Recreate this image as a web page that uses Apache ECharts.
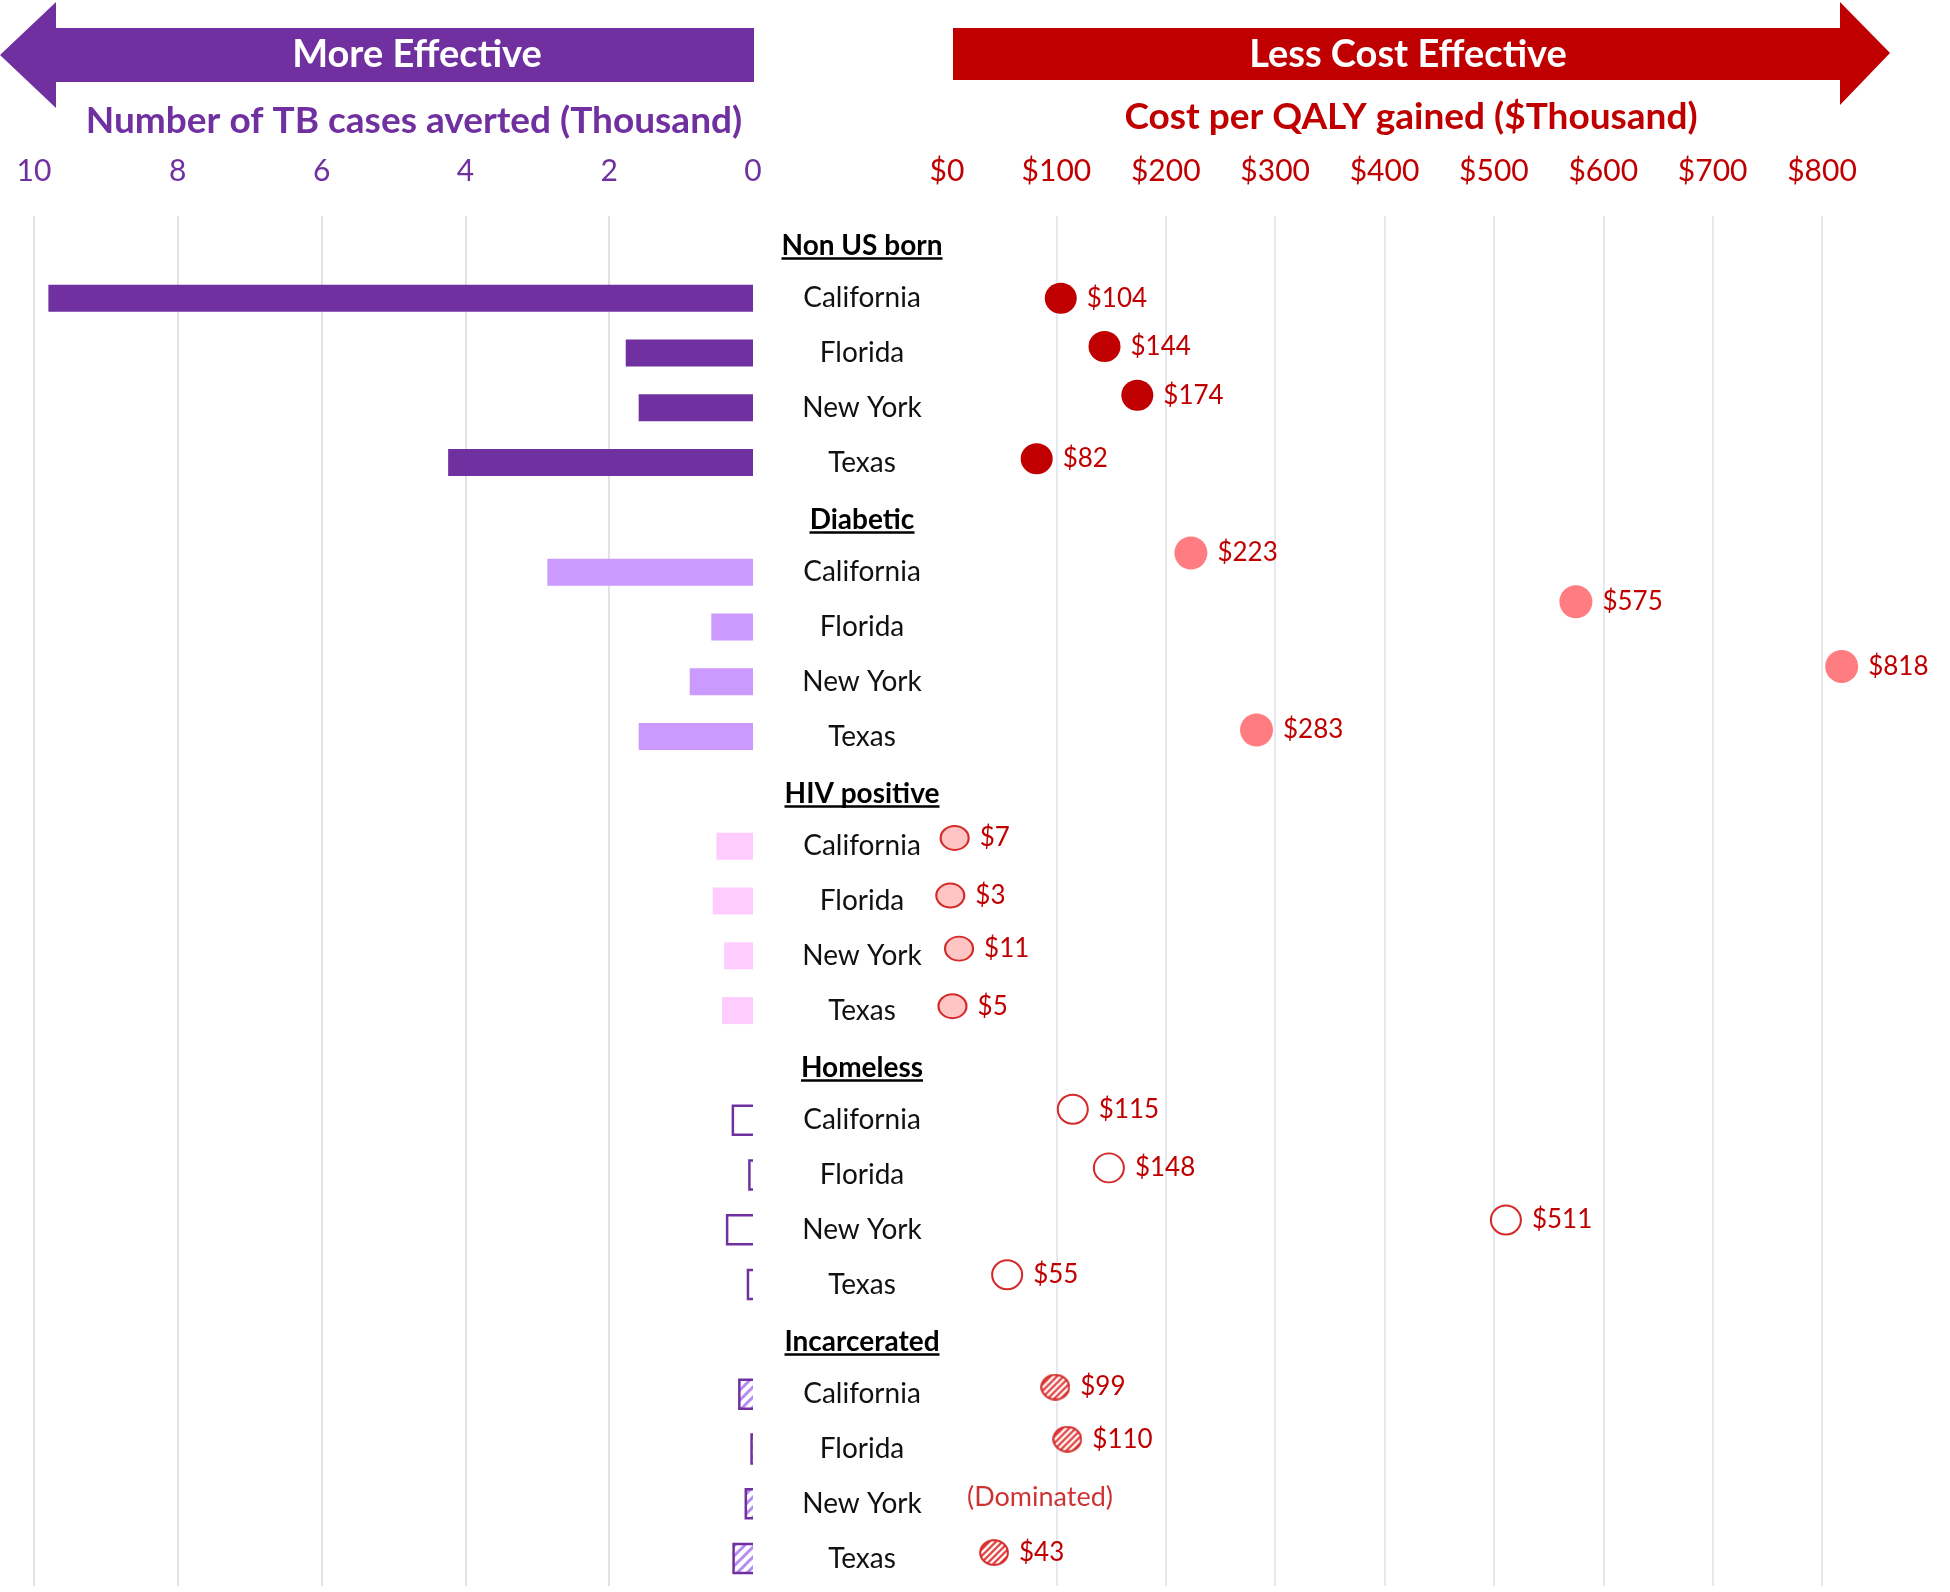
<!DOCTYPE html>
<html><head><meta charset="utf-8">
<script src="https://cdn.jsdelivr.net/npm/echarts@6/dist/echarts.min.js"></script>
<style>html,body{margin:0;padding:0;background:#fff}#c{width:1950px;height:1592px}</style>
</head><body><div id="c"></div>
<script>
// ---------------- DATA ----------------
const groups = ['Non US born', 'Diabetic', 'HIV positive', 'Homeless', 'Incarcerated'];
const states = ['California', 'Florida', 'New York', 'Texas'];

// Number of TB cases averted (thousand)
const casesNonUS        = [9.80, 1.77, 1.59, 4.24];
const casesDiabetic     = [2.86, 0.58, 0.88, 1.59];
const casesHIV          = [0.51, 0.56, 0.40, 0.43];
const casesHomeless     = [0.28, 0.05, 0.36, 0.07];
const casesIncarcerated = [0.19, 0.02, 0.10, 0.27];

// Cost per QALY gained ($ thousand), from point labels (null = dominated)
const costNonUS        = [104, 144, 174, 82];
const costDiabetic     = [223, 575, 818, 283];
const costHIV          = [7, 3, 11, 5];
const costHomeless     = [115, 148, 511, 55];
const costIncarcerated = [99, 110, null, 43];
const dominatedText = '(Dominated)';

// vertical placement of the cost points, in row units (row 0 = first group header)
const dotRowNonUS        = [1.00, 1.88, 2.77, 3.93];
const dotRowDiabetic     = [5.65, 6.54, 7.72, 8.88];
const dotRowHIV          = [10.85, 11.90, 12.87, 13.92];
const dotRowHomeless     = [15.80, 16.87, 17.82, 18.82];
const dotRowIncarcerated = [20.87, 21.82, 22.89, 23.89];

// axes
const casesAxisMin = 0, casesAxisMax = 10, casesAxisStep = 2;
const costAxisMin = 0, costAxisMax = 800, costAxisStep = 100;
const casesAxisTitle = 'Number of TB cases averted (Thousand)';
const costAxisTitle = 'Cost per QALY gained ($Thousand)';
const leftArrowText = 'More Effective';
const rightArrowText = 'Less Cost Effective';

// ---------------- BUILD ----------------
const FONT = 'Lato';
const PURPLE = '#7030A0', RED = '#C00000', RED2 = '#D42A2A';

const rowLabels = [], rowIds = [];
groups.forEach((g, gi) => {
  rowLabels.push(g); rowIds.push('h' + gi);
  states.forEach((s, si) => { rowLabels.push(s); rowIds.push('r' + gi + '_' + si); });
});
const headerIdx = new Set(groups.map((g, gi) => gi * 5));
const rowOf = (gi, si) => gi * 5 + 1 + si;

function stripes(color, bg, size, lw) {
  const c = document.createElement('canvas');
  c.width = c.height = size;
  const g = c.getContext('2d');
  g.fillStyle = bg; g.fillRect(0, 0, size, size);
  g.strokeStyle = color; g.lineWidth = lw; g.lineCap = 'square';
  g.beginPath();
  g.moveTo(-size, size); g.lineTo(size, -size);
  g.moveTo(0, size); g.lineTo(size, 0);
  g.moveTo(0, 2 * size); g.lineTo(2 * size, 0);
  g.stroke();
  return c;
}
const barHatch = { image: stripes('#B68CF2', '#ffffff', 10, 3), repeat: 'repeat' };

// hatched circle marker image (for incarcerated points)
function hatchedDot(w, h, k) {
  const c = document.createElement('canvas');
  c.width = w * k; c.height = h * k;
  const g = c.getContext('2d');
  g.scale(k, k);
  g.beginPath(); g.ellipse(w / 2, h / 2, w / 2 - 1.2, h / 2 - 1.2, 0, 0, Math.PI * 2);
  g.save(); g.clip();
  g.fillStyle = '#fff'; g.fillRect(0, 0, w, h);
  g.strokeStyle = '#E23B3B'; g.lineWidth = 2.2;
  g.beginPath();
  for (let d = -h; d < w + h; d += 6.5) { g.moveTo(d, h); g.lineTo(d + h, 0); }
  g.stroke();
  g.restore();
  g.beginPath(); g.ellipse(w / 2, h / 2, w / 2 - 1.2, h / 2 - 1.2, 0, 0, Math.PI * 2);
  g.strokeStyle = RED2; g.lineWidth = 2; g.stroke();
  return 'image://' + c.toDataURL();
}
const incarcSymbol = hatchedDot(30, 27, 4);

// solid bars
const solidSets = [[casesNonUS, PURPLE], [casesDiabetic, '#CC99FF'], [casesHIV, '#FFCCFF']];
const barData = rowIds.map(() => '-');
solidSets.forEach(([vals, col], gi) => {
  vals.forEach((v, si) => { barData[rowOf(gi, si)] = { value: v, itemStyle: { color: col } }; });
});
const homelessData = casesHomeless.map((v, si) => [v, rowOf(3, si)]);
const incarcData = casesIncarcerated.map((v, si) => [v, rowOf(4, si)]);

function bracket(fill) {
  return function (params, api) {
    const v = api.value(0), row = api.value(1);
    const pEnd = api.coord([v, row]);
    const pBase = api.coord([0, row]);
    const h = api.size([0, 1])[1] * 0.53;
    const x0 = pEnd[0], x1 = pBase[0], yT = pEnd[1] - h / 2, yB = pEnd[1] + h / 2;
    const children = [];
    if (fill) children.push({ type: 'rect', shape: { x: x0, y: yT, width: x1 - x0, height: h }, style: { fill: fill } });
    children.push({ type: 'polyline', shape: { points: [[x1, yT], [x0, yT], [x0, yB], [x1, yB]] },
      style: { stroke: PURPLE, lineWidth: 2.5, fill: null } });
    return { type: 'group', children: children };
  };
}

// header underline widths
const mctx = document.createElement('canvas').getContext('2d');
mctx.font = 'bold 28px ' + FONT;
const rich = {
  s: { fontFamily: FONT, fontSize: 28, color: '#111', lineHeight: 34 },
  h: { fontFamily: FONT, fontSize: 28, fontWeight: 'bold', color: '#000', lineHeight: 30, padding: [8, 0, 0, 0] }
};
groups.forEach((g, gi) => {
  rich['u' + gi] = { width: Math.round(mctx.measureText(g).width), height: 2.5, backgroundColor: '#000', lineHeight: 3 };
});

const labelStyle = { show: true, position: 'right', distance: 10, color: RED, fontFamily: FONT, fontSize: 26,
  formatter: p => '$' + p.value[0] };
function dotSeries(costs, rows, style, size, symbol) {
  const data = [];
  costs.forEach((c, i) => { if (c != null) data.push([c, rows[i]]); });
  return { type: 'scatter', xAxisIndex: 1, yAxisIndex: 1, clip: false, symbol: symbol || 'circle', symbolSize: size,
    itemStyle: Object.assign({ opacity: 1 }, style), label: labelStyle, data: data, z: 5,
    emphasis: { disabled: true } };
}
const dominatedData = [];
costIncarcerated.forEach((c, i) => { if (c == null) dominatedData.push([costAxisMin, dotRowIncarcerated[i]]); });

const option = {
  animation: false,
  backgroundColor: '#ffffff',
  grid: [
    { left: 34, width: 719, top: 216, height: 1370 },
    { left: 947, width: 875, top: 216, height: 1370 }
  ],
  xAxis: [
    { gridIndex: 0, type: 'value', position: 'top', inverse: true, min: casesAxisMin, max: casesAxisMax, interval: casesAxisStep,
      axisLine: { show: false }, axisTick: { show: false },
      axisLabel: { color: PURPLE, fontFamily: FONT, fontSize: 30, margin: 30 },
      splitLine: { show: true, showMinLine: false, lineStyle: { color: '#D9D9D9', width: 1.5 } } },
    { gridIndex: 1, type: 'value', position: 'top', min: costAxisMin, max: costAxisMax, interval: costAxisStep,
      axisLine: { show: false }, axisTick: { show: false },
      axisLabel: { color: RED, fontFamily: FONT, fontSize: 30, margin: 30, formatter: v => '$' + v },
      splitLine: { show: true, showMinLine: false, lineStyle: { color: '#DDE1E8', width: 1.5 } } }
  ],
  yAxis: [
    { gridIndex: 0, type: 'category', inverse: true, data: rowIds, position: 'right',
      axisLine: { show: false }, axisTick: { show: false }, splitLine: { show: false },
      axisLabel: { interval: 0, align: 'center', margin: 109, rich: rich,
        formatter: (val, idx) => headerIdx.has(idx) ? '{h|' + rowLabels[idx] + '}\n{u' + (idx / 5) + '|}' : '{s|' + rowLabels[idx] + '}' } },
    { gridIndex: 1, type: 'value', inverse: true, min: -0.5, max: rowIds.length - 0.5, show: false, splitLine: { show: false } }
  ],
  series: [
    { type: 'bar', xAxisIndex: 0, yAxisIndex: 0, barWidth: 27, data: barData, emphasis: { disabled: true } },
    { type: 'custom', xAxisIndex: 0, yAxisIndex: 0, renderItem: bracket(null), encode: { x: 0, y: 1 }, data: homelessData },
    { type: 'custom', xAxisIndex: 0, yAxisIndex: 0, renderItem: bracket(barHatch), encode: { x: 0, y: 1 }, data: incarcData },
    dotSeries(costNonUS, dotRowNonUS, { color: RED }, [32, 31]),
    dotSeries(costDiabetic, dotRowDiabetic, { color: '#FF7C80' }, [33, 33]),
    dotSeries(costHIV, dotRowHIV, { color: '#FFC4C4', borderColor: RED2, borderWidth: 2 }, [28, 24]),
    dotSeries(costHomeless, dotRowHomeless, { color: '#ffffff', borderColor: RED2, borderWidth: 2 }, [30, 29]),
    dotSeries(costIncarcerated, dotRowIncarcerated, {}, [30, 27], incarcSymbol),
    { type: 'scatter', xAxisIndex: 1, yAxisIndex: 1, clip: false, symbolSize: 2,
      itemStyle: { color: 'rgba(255,255,255,0)' }, emphasis: { disabled: true },
      label: { show: true, position: 'right', distance: 19, color: RED, fontFamily: FONT, fontSize: 27, formatter: dominatedText },
      data: dominatedData }
  ],
  graphic: [
    { type: 'polygon', shape: { points: [[0, 55], [56, 2], [56, 28], [754, 28], [754, 82], [56, 82], [56, 108]] },
      style: { fill: PURPLE } },
    { type: 'polygon', shape: { points: [[953, 28], [1840, 28], [1840, 2], [1890, 53], [1840, 105], [1840, 80], [953, 80]] },
      style: { fill: RED } },
    { type: 'text', x: 417, y: 55, style: { text: leftArrowText, fill: '#fff', font: 'bold 38px ' + FONT, textAlign: 'center', textVerticalAlign: 'middle' } },
    { type: 'text', x: 1408, y: 55, style: { text: rightArrowText, fill: '#fff', font: 'bold 38px ' + FONT, textAlign: 'center', textVerticalAlign: 'middle' } },
    { type: 'text', x: 414, y: 121, style: { text: casesAxisTitle, fill: PURPLE, font: 'bold 37px ' + FONT, textAlign: 'center', textVerticalAlign: 'middle' } },
    { type: 'text', x: 1411, y: 117, style: { text: costAxisTitle, fill: RED, font: 'bold 37px ' + FONT, textAlign: 'center', textVerticalAlign: 'middle' } }
  ]
};
const chart = echarts.init(document.getElementById('c'), null, { renderer: 'canvas' });
chart.setOption(option);
</script></body></html>
